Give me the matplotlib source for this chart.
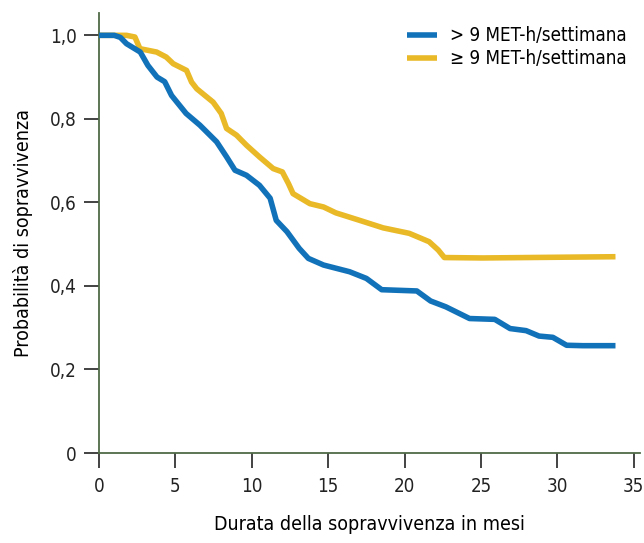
import matplotlib
matplotlib.use("Agg")
import matplotlib.pyplot as plt

plt.rcParams["font.family"] = ["DejaVu Sans"]
plt.rcParams["font.stretch"] = "condensed"

# ── data ───────────────────────────────────────────────────────
blue_x = [0, 1.0, 1.4, 1.8, 2.7, 3.2, 3.8, 4.3, 4.75, 5.7, 6.6, 7.7, 8.35, 8.9,
          9.65, 10.5, 11.2, 11.6, 12.3, 13.1, 13.7, 14.7, 16.4, 17.5, 18.5,
          20.8, 21.7, 22.7, 24.25, 25.9, 26.9, 27.95, 28.8, 29.7, 30.6, 31.65, 33.8]
blue_y = [1.0, 1.0, 0.995, 0.98, 0.96, 0.928, 0.90, 0.889, 0.856, 0.813, 0.785,
          0.745, 0.709, 0.677, 0.665, 0.641, 0.61, 0.557, 0.53, 0.49, 0.466,
          0.45, 0.434, 0.418, 0.391, 0.388, 0.364, 0.35, 0.322, 0.32, 0.298,
          0.293, 0.28, 0.277, 0.258, 0.257, 0.257]

yel_x = [0, 1.8, 2.35, 2.68, 3.77, 4.4, 4.86, 5.73, 6.06, 6.4, 7.47, 8.0, 8.35,
         9.0, 9.65, 10.5, 11.4, 12.0, 12.4, 12.7, 13.8, 14.7, 15.5, 17.06, 18.6,
         20.3, 21.6, 22.2, 22.6, 25.1, 33.8]
yel_y = [1.0, 1.0, 0.996, 0.968, 0.96, 0.948, 0.932, 0.916, 0.888, 0.872, 0.84,
         0.813, 0.777, 0.761, 0.737, 0.709, 0.681, 0.673, 0.645, 0.621, 0.597,
         0.589, 0.575, 0.557, 0.539, 0.526, 0.506, 0.486, 0.468, 0.467, 0.47]

labels = ["> 9 MET-h/settimana", "\u2265 9 MET-h/settimana"]
x_ticks = [0, 5, 10, 15, 20, 25, 30, 35]
y_ticks = [0, 0.2, 0.4, 0.6, 0.8, 1.0]
y_ticklabels = ["0", "0,2", "0,4", "0,6", "0,8", "1,0"]

BLUE = "#1272b9"
YELLOW = "#e9b927"
SPINE = "#4f6a45"

fig = plt.figure(figsize=(6.44, 5.43), dpi=100)
ax = fig.add_axes([0.1537, 0.1657, 0.840, 0.810])

ax.plot(blue_x, blue_y, color=BLUE, lw=4.0, solid_joinstyle="round",
        solid_capstyle="butt", label=labels[0], zorder=3)
ax.plot(yel_x, yel_y, color=YELLOW, lw=4.0, solid_joinstyle="round",
        solid_capstyle="butt", label=labels[1], zorder=2)

ax.set_xlim(0, 35.4)
ax.set_ylim(0, 1.053)
ax.set_xticks(x_ticks)
ax.set_yticks(y_ticks)
ax.set_yticklabels(y_ticklabels)

for s in ["top", "right"]:
    ax.spines[s].set_visible(False)
for s in ["left", "bottom"]:
    ax.spines[s].set_color(SPINE)
    ax.spines[s].set_linewidth(1.3)

ax.tick_params(axis="both", direction="out", length=11, width=1.2,
               colors="#222222", labelsize=13.5, pad=6)
ax.tick_params(axis="y", pad=5)

ax.set_xlabel("Durata della sopravvivenza in mesi", fontsize=14, labelpad=14)
ax.set_ylabel("Probabilità di sopravvivenza", fontsize=14, labelpad=12)

leg = ax.legend(loc="upper right", bbox_to_anchor=(1.0, 1.0), frameon=False,
                fontsize=13.5, handlelength=1.6, handletextpad=0.7,
                labelspacing=0.2, borderaxespad=0.3)
for line in leg.get_lines():
    line.set_linewidth(4.0)

fig.savefig("out.png", dpi=100)
